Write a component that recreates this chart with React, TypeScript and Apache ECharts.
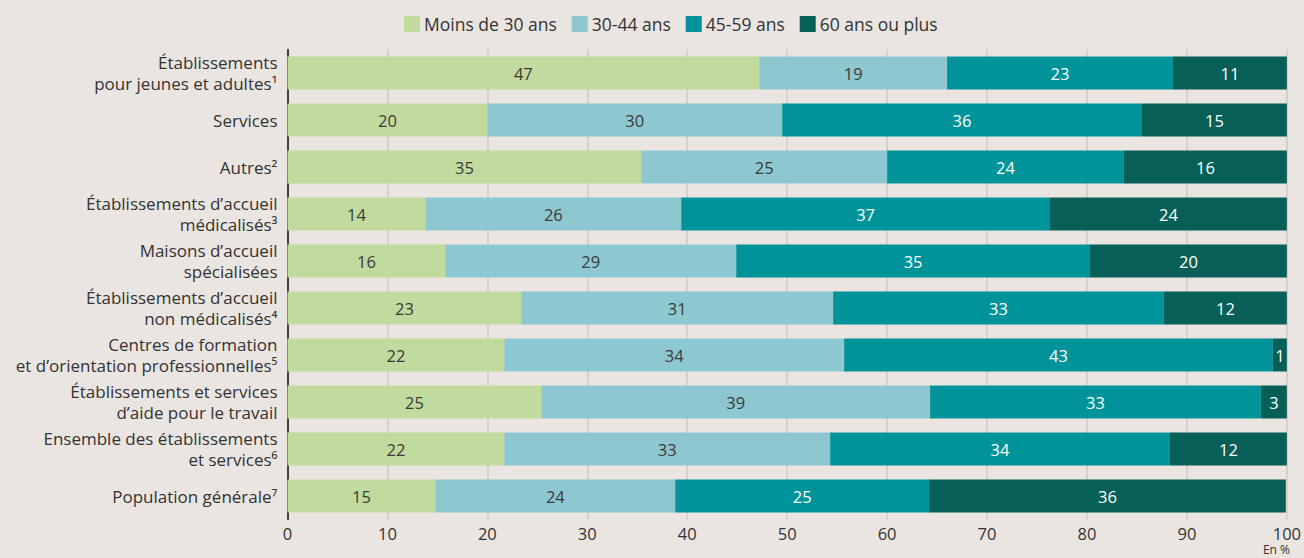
import React, { useEffect, useRef } from "react";
import * as echarts from "echarts";

const categories = [
  "Établissements\npour jeunes et adultes¹",
  "Services",
  "Autres²",
  "Établissements d’accueil\nmédicalisés³",
  "Maisons d’accueil\nspécialisées",
  "Établissements d’accueil\nnon médicalisés⁴",
  "Centres de formation\net d’orientation professionnelles⁵",
  "Établissements et services\nd’aide pour le travail",
  "Ensemble des établissements\net services⁶",
  "Population générale⁷",
];

const seriesNames = ["Moins de 30 ans", "30-44 ans", "45-59 ans", "60 ans ou plus"];

const moins30 = [47.2, 20.0, 35.4, 13.8, 15.8, 23.4, 21.7, 25.4, 21.7, 14.8];
const de30a44 = [18.8, 29.5, 24.6, 25.6, 29.1, 31.2, 34.0, 38.9, 32.6, 24.0];
const de45a59 = [22.6, 36.0, 23.7, 36.9, 35.4, 33.1, 42.9, 33.1, 34.0, 25.4];
const plus60 = [11.4, 14.5, 16.3, 23.7, 19.7, 12.3, 1.4, 2.6, 11.7, 35.7];

const xTicks = [0, 10, 20, 30, 40, 50, 60, 70, 80, 90, 100];

const colors = ["#c1da9e", "#8dc7cf", "#00939a", "#075f57"];
const labelColors = ["#3a3a3a", "#3a3a3a", "#ffffff", "#ffffff"];
const FONT = "'Open Sans', 'Noto Sans', sans-serif";

export default function App() {
  const ref = useRef<HTMLDivElement>(null);
  useEffect(() => {
    document.body.style.margin = "0";
    const chart = echarts.init(ref.current!, undefined, { renderer: "svg" });
    const data = [moins30, de30a44, de45a59, plus60];
    chart.setOption({
      animation: false,
      backgroundColor: "#ebe5e2",
      textStyle: { fontFamily: FONT },
      legend: {
        top: 10,
        left: 399,
        itemWidth: 16,
        itemHeight: 16,
        itemGap: 15,
        icon: "rect",
        textStyle: { fontSize: 17.5, color: "#333", fontFamily: FONT, padding: [0, 0, 0, -1] },
        data: seriesNames,
      },
      grid: { left: 287.5, right: 16.5, top: 49.5, bottom: 38.5, containLabel: false },
      xAxis: {
        type: "value",
        min: xTicks[0],
        max: xTicks[xTicks.length - 1],
        interval: 10,
        axisLine: { show: false },
        axisTick: { show: false },
        splitLine: { show: true, lineStyle: { color: "#d0cac7", width: 1.5 } },
        axisLabel: {
          color: "#333",
          fontSize: 16.5,
          margin: 6,
          lineHeight: 16,
          fontFamily: FONT,
          formatter: (v: number) => String(v),
        },
      },
      yAxis: {
        type: "category",
        inverse: true,
        data: categories,
        axisLine: { show: true, lineStyle: { color: "#111", width: 1.5 } },
        axisTick: { show: false },
        axisLabel: {
          color: "#333",
          fontSize: 17,
          lineHeight: 21,
          margin: 10,
          align: "right",
          fontFamily: FONT,
        },
      },
      graphic: [
        {
          type: "text",
          right: 14,
          top: 543,
          style: { text: "En %", fontSize: 12, lineHeight: 13, fill: "#333", fontFamily: FONT },
        },
      ],
      series: seriesNames.map((name, i) => ({
        name,
        type: "bar",
        stack: "total",
        barWidth: 33,
        data: data[i],
        itemStyle: { color: colors[i] },
        label: {
          show: true,
          position: "inside",
          color: labelColors[i],
          fontSize: 16.5,
          fontWeight: 500,
          fontFamily: FONT,
          formatter: (p: any) => String(Math.round(p.value)),
        },
      })),
    });
    return () => chart.dispose();
  }, []);
  return (
    <div
      ref={ref}
      style={{ position: "absolute", left: 0, top: 0, width: 1304, height: 558 }}
    />
  );
}
